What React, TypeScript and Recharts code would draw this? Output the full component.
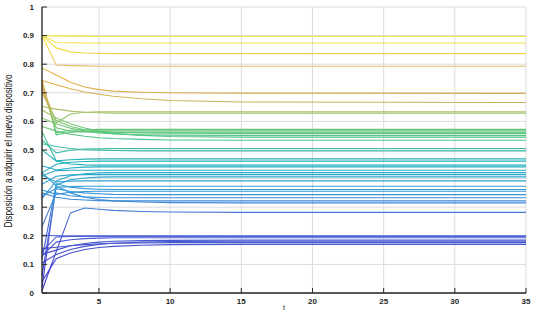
import { CartesianGrid, Line, LineChart, XAxis, YAxis } from "recharts";

// iteration steps where the curves were sampled (lines are flat after ~15)
const X_STEPS = [1, 2, 3, 4, 5, 6, 8, 10, 15, 35];
const X_TICKS = [5, 10, 15, 20, 25, 30, 35];
const Y_TICKS = [0, 0.1, 0.2, 0.3, 0.4, 0.5, 0.6, 0.7, 0.8, 0.9, 1];

// yellow
const agent01 = [0.9, 0.899, 0.898, 0.898, 0.897, 0.897, 0.897, 0.897, 0.897, 0.897];
const agent02 = [0.9, 0.876, 0.875, 0.874, 0.874, 0.874, 0.874, 0.874, 0.874, 0.874];
const agent03 = [0.9, 0.857, 0.843, 0.839, 0.838, 0.837, 0.837, 0.837, 0.837, 0.837];
const agent04 = [0.9, 0.797, 0.795, 0.794, 0.793, 0.793, 0.793, 0.793, 0.793, 0.793];
// orange / olive
const agent05 = [0.787, 0.762, 0.737, 0.72, 0.711, 0.706, 0.702, 0.7, 0.699, 0.698];
const agent06 = [0.743, 0.728, 0.714, 0.703, 0.695, 0.688, 0.679, 0.673, 0.668, 0.666];
const agent07 = [0.725, 0.595, 0.626, 0.632, 0.634, 0.634, 0.634, 0.634, 0.634, 0.634];
const agent08 = [0.652, 0.643, 0.636, 0.632, 0.63, 0.629, 0.629, 0.629, 0.629, 0.629];
// green
const agent09 = [0.738, 0.56, 0.569, 0.571, 0.572, 0.572, 0.572, 0.572, 0.572, 0.572];
const agent10 = [0.745, 0.553, 0.562, 0.565, 0.567, 0.567, 0.567, 0.567, 0.567, 0.567];
const agent11 = [0.715, 0.578, 0.566, 0.563, 0.562, 0.562, 0.562, 0.562, 0.562, 0.562];
const agent12 = [0.7, 0.603, 0.582, 0.571, 0.565, 0.562, 0.56, 0.559, 0.558, 0.558];
const agent13 = [0.612, 0.592, 0.576, 0.566, 0.56, 0.556, 0.553, 0.552, 0.551, 0.551];
const agent14 = [0.64, 0.612, 0.592, 0.577, 0.566, 0.558, 0.551, 0.547, 0.545, 0.545];
const agent15 = [0.582, 0.566, 0.555, 0.548, 0.543, 0.54, 0.537, 0.535, 0.534, 0.534];
// teal
const agent16 = [0.535, 0.49, 0.499, 0.503, 0.504, 0.505, 0.505, 0.505, 0.505, 0.505];
const agent17 = [0.522, 0.512, 0.505, 0.501, 0.499, 0.498, 0.497, 0.497, 0.497, 0.497];
const agent18 = [0.565, 0.462, 0.466, 0.468, 0.469, 0.469, 0.469, 0.469, 0.469, 0.469];
const agent19 = [0.42, 0.45, 0.457, 0.46, 0.461, 0.461, 0.461, 0.461, 0.461, 0.461];
const agent20 = [0.5, 0.462, 0.451, 0.448, 0.447, 0.447, 0.447, 0.447, 0.447, 0.447];
const agent21 = [0.445, 0.43, 0.437, 0.44, 0.441, 0.441, 0.441, 0.441, 0.441, 0.441];
const agent22 = [0.41, 0.428, 0.429, 0.429, 0.429, 0.429, 0.429, 0.429, 0.429, 0.429];
const agent23 = [0.33, 0.392, 0.41, 0.417, 0.42, 0.421, 0.421, 0.421, 0.421, 0.421];
const agent24 = [0.38, 0.408, 0.413, 0.414, 0.414, 0.414, 0.414, 0.414, 0.414, 0.414];
// light blue
const agent25 = [0.02, 0.378, 0.396, 0.402, 0.405, 0.406, 0.406, 0.406, 0.406, 0.406];
const agent26 = [0.412, 0.388, 0.391, 0.392, 0.392, 0.392, 0.392, 0.392, 0.392, 0.392];
const agent27 = [0.06, 0.37, 0.372, 0.373, 0.373, 0.373, 0.373, 0.373, 0.373, 0.373];
const agent28 = [0.118, 0.382, 0.37, 0.365, 0.363, 0.362, 0.362, 0.362, 0.362, 0.362];
const agent29 = [0.36, 0.345, 0.352, 0.355, 0.356, 0.356, 0.356, 0.356, 0.356, 0.356];
const agent30 = [0.34, 0.365, 0.355, 0.35, 0.347, 0.345, 0.344, 0.344, 0.344, 0.344];
const agent31 = [0.232, 0.35, 0.34, 0.336, 0.334, 0.333, 0.333, 0.333, 0.333, 0.333];
const agent32 = [0.35, 0.335, 0.328, 0.325, 0.323, 0.322, 0.322, 0.322, 0.322, 0.322];
const agent33 = [0.42, 0.375, 0.35, 0.335, 0.327, 0.322, 0.318, 0.316, 0.315, 0.315];
const agent34 = [0.008, 0.145, 0.28, 0.297, 0.293, 0.289, 0.285, 0.283, 0.282, 0.282];
// blue
const agent35 = [0.202, 0.2, 0.199, 0.199, 0.199, 0.199, 0.199, 0.199, 0.199, 0.199];
const agent36 = [0.145, 0.196, 0.198, 0.199, 0.199, 0.199, 0.199, 0.199, 0.199, 0.199];
const agent37 = [0.13, 0.178, 0.186, 0.19, 0.192, 0.193, 0.193, 0.193, 0.193, 0.193];
const agent38 = [0.135, 0.15, 0.165, 0.173, 0.178, 0.181, 0.183, 0.184, 0.185, 0.185];
const agent39 = [0.105, 0.135, 0.152, 0.163, 0.17, 0.174, 0.178, 0.18, 0.181, 0.181];
const agent40 = [0.04, 0.12, 0.14, 0.152, 0.159, 0.163, 0.167, 0.169, 0.17, 0.17];
const agent41 = [0.155, 0.16, 0.165, 0.169, 0.172, 0.174, 0.175, 0.176, 0.176, 0.176];

const AGENTS = [
  agent01, agent02, agent03, agent04, agent05, agent06, agent07, agent08, agent09, agent10,
  agent11, agent12, agent13, agent14, agent15, agent16, agent17, agent18, agent19, agent20,
  agent21, agent22, agent23, agent24, agent25, agent26, agent27, agent28, agent29, agent30,
  agent31, agent32, agent33, agent34, agent35, agent36, agent37, agent38, agent39, agent40,
  agent41,
];

const rows = X_STEPS.map((x, i) => {
  const row: Record<string, number> = { x };
  AGENTS.forEach((s, j) => {
    row[`a${j}`] = s[i];
  });
  return row;
});

// colour follows the value (parula-like), mapped onto the plot height
const PLOT_TOP = 7;
const PLOT_BOTTOM = 293;
const COLOR_STOPS: [number, string][] = [
  [1.0, "#f9fb0e"],
  [0.9, "#f6e93c"],
  [0.84, "#eed64a"],
  [0.8, "#e4c070"],
  [0.75, "#e8b23c"],
  [0.7, "#d6b052"],
  [0.66, "#c4b45a"],
  [0.63, "#a4c26a"],
  [0.59, "#7cc672"],
  [0.56, "#5ac67c"],
  [0.53, "#48c296"],
  [0.5, "#38bba8"],
  [0.46, "#22b2b8"],
  [0.42, "#2aa8c8"],
  [0.38, "#31a0d6"],
  [0.34, "#3a90da"],
  [0.3, "#4282d4"],
  [0.26, "#4872cc"],
  [0.21, "#4a60dc"],
  [0.17, "#4656cc"],
  [0.1, "#4040d0"],
  [0.0, "#3a2cb8"],
];

const tickStyle = { fontSize: 8, fill: "#262626", fontWeight: 700, fontFamily: "Liberation Sans, Arial, sans-serif" };

export default function App() {
  return (
    <div style={{ position: "absolute", left: 0, top: 0, width: 535, height: 311, overflow: "hidden", background: "#fff" }}>
      <svg width={0} height={0} style={{ position: "absolute" }}>
        <defs>
          <linearGradient id="valueGrad" gradientUnits="userSpaceOnUse" x1={0} y1={PLOT_TOP} x2={0} y2={PLOT_BOTTOM}>
            {COLOR_STOPS.map(([v, c]) => (
              <stop key={v} offset={1 - v} stopColor={c} />
            ))}
          </linearGradient>
        </defs>
      </svg>
      <LineChart width={535} height={311} data={rows} margin={{ top: PLOT_TOP, right: 9, bottom: 0, left: 0 }}>
        <CartesianGrid stroke="#dcdcdc" strokeWidth={1} />
        <XAxis
          dataKey="x"
          type="number"
          domain={[1, 35]}
          ticks={X_TICKS}
          height={18}
          tickSize={-5}
          tickMargin={10}
          axisLine={{ stroke: "#262626", strokeWidth: 1.3 }}
          tickLine={{ stroke: "#262626" }}
          tick={tickStyle}
          label={{
            content: () => (
              <text x={284} y={310} textAnchor="middle" fontSize={7} fill="#262626" fontFamily="Liberation Sans, Arial, sans-serif">
                t
              </text>
            ),
          }}
        />
        <YAxis
          type="number"
          domain={[0, 1]}
          ticks={Y_TICKS}
          width={42}
          tickSize={-5}
          tickMargin={13}
          tickFormatter={(v: number) => String(Math.round(v * 10) / 10)}
          axisLine={{ stroke: "#262626", strokeWidth: 1.3 }}
          tickLine={{ stroke: "#262626" }}
          tick={tickStyle}
          label={{
            content: () => (
              <text
                transform="translate(12,151) rotate(-90)"
                textAnchor="middle"
                fontSize={10}
                fill="#111"
                textLength={153}
                lengthAdjust="spacingAndGlyphs"
                fontFamily="Liberation Sans, Arial, sans-serif"
              >
                Disposición a adquirir el nuevo dispositivo
              </text>
            ),
          }}
        />
        {AGENTS.map((_, j) => (
          <Line
            key={j}
            type="linear"
            dataKey={`a${j}`}
            stroke="url(#valueGrad)"
            strokeWidth={1.1}
            dot={false}
            isAnimationActive={false}
          />
        ))}
      </LineChart>
    </div>
  );
}
